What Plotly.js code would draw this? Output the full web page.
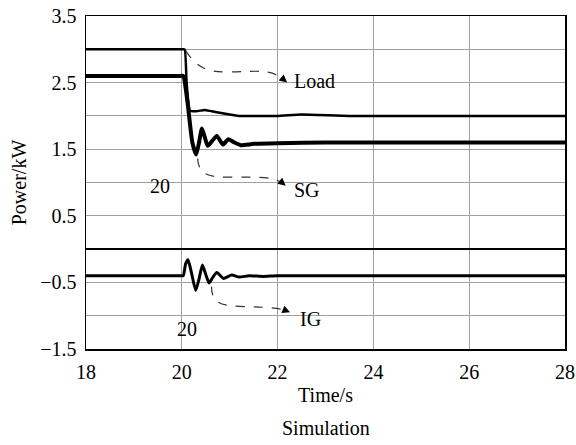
<!DOCTYPE html>
<html>
<head>
<meta charset="utf-8">
<script src="https://cdn.plot.ly/plotly-3.0.1.min.js"></script>
<style>html,body{margin:0;padding:0;background:#fff;}#chart{width:576px;height:445px;}</style>
</head>
<body>
<div id="chart"></div>
<script>
// Load power (kW)
const loadTime = [18, 19, 19.98, 20.06, 20.1, 20.17, 20.3, 20.48, 20.7, 21.0, 21.2, 22.0, 22.5, 23.5, 28];
const loadPower = [3.0, 3.0, 3.0, 3.0, 2.5, 2.08, 2.07, 2.09, 2.06, 2.02, 2.0, 2.0, 2.02, 2.0, 2.0];
// SG power (kW)
const sgTime = [18, 19, 19.97, 20.03, 20.12, 20.22, 20.3, 20.36, 20.42, 20.48, 20.54, 20.63, 20.73, 20.86, 20.97, 21.1, 21.23, 21.5, 22.0, 23.0, 28];
const sgPower = [2.6, 2.6, 2.6, 2.6, 2.2, 1.6, 1.42, 1.6, 1.81, 1.68, 1.55, 1.62, 1.70, 1.57, 1.65, 1.60, 1.56, 1.58, 1.59, 1.60, 1.60];
// IG power (kW)
const igTime = [18, 19, 19.97, 20.03, 20.08, 20.13, 20.2, 20.29, 20.36, 20.43, 20.5, 20.57, 20.65, 20.73, 20.87, 21.04, 21.2, 21.4, 21.7, 22.0, 28];
const igPower = [-0.4, -0.4, -0.4, -0.4, -0.22, -0.16, -0.35, -0.62, -0.45, -0.24, -0.38, -0.51, -0.42, -0.35, -0.44, -0.39, -0.42, -0.40, -0.41, -0.40, -0.40];

const xTickVals = [18, 20, 22, 24, 26, 28];
const xTickText = ['18', '20', '22', '24', '26', '28'];
const yTickVals = [-1.5, -1, -0.5, 0, 0.5, 1, 1.5, 2, 2.5, 3, 3.5];
const yTickText = ['\u22121.5', '', '\u22120.5', '', '0.5', '', '1.5', '', '2.5', '', '3.5'];

const serif = 'Liberation Serif, Times New Roman, serif';

const traces = [
  {x: loadTime, y: loadPower, mode: 'lines', line: {color: '#000', width: 2.5, shape: 'spline', smoothing: 0.4}, hoverinfo: 'skip'},
  {x: sgTime, y: sgPower, mode: 'lines', line: {color: '#000', width: 4, shape: 'spline', smoothing: 0.5}, hoverinfo: 'skip'},
  {x: igTime, y: igPower, mode: 'lines', line: {color: '#000', width: 3, shape: 'spline', smoothing: 0.5}, hoverinfo: 'skip'}
];

const dash = {color: '#333', width: 1.2, dash: 'dash'};
const layout = {
  width: 576, height: 445,
  margin: {l: 86, r: 11, t: 16, b: 96},
  paper_bgcolor: '#fff', plot_bgcolor: '#fff',
  showlegend: false,
  font: {family: serif, size: 20, color: '#000'},
  xaxis: {
    range: [18, 28], tickvals: xTickVals, ticktext: xTickText,
    showgrid: true, gridcolor: '#a0a0a0', gridwidth: 1,
    showline: true, linecolor: '#000', linewidth: 1.5, mirror: true,
    ticks: '', zeroline: false, ticklabelstandoff: 4,
    tickfont: {family: serif, size: 20},
    title: {text: 'Time/s', font: {family: serif, size: 20}, standoff: 6}
  },
  yaxis: {
    range: [-1.5, 3.5], tickvals: yTickVals, ticktext: yTickText,
    showgrid: true, gridcolor: '#a0a0a0', gridwidth: 1,
    showline: true, linecolor: '#000', linewidth: 1.5, mirror: true,
    zeroline: true, zerolinecolor: '#000', zerolinewidth: 2,
    ticks: '', ticklabelstandoff: 4, tickfont: {family: serif, size: 20},
    title: {text: 'Power/kW', font: {family: serif, size: 20}, standoff: 8}
  },
  shapes: [
    {type: 'path', xref: 'x', yref: 'y', path: 'M 20.08,2.98 C 20.35,2.68 20.6,2.66 21.0,2.66 C 21.5,2.66 21.85,2.72 22.12,2.55', line: dash},
    {type: 'path', xref: 'x', yref: 'y', path: 'M 20.33,1.36 C 20.35,1.1 20.6,1.08 21.0,1.08 C 21.5,1.08 21.9,1.1 22.1,0.99', line: dash},
    {type: 'path', xref: 'x', yref: 'y', path: 'M 20.62,-0.56 C 20.62,-0.8 20.8,-0.85 21.2,-0.86 C 21.6,-0.87 21.9,-0.87 22.18,-0.92', line: dash}
  ],
  annotations: [
    {x: 22.2, y: 2.5, xref: 'x', yref: 'y', text: '', showarrow: true, arrowhead: 2, arrowsize: 1.3, arrowwidth: 1.2, arrowcolor: '#000', ax: -6, ay: -5},
    {x: 22.17, y: 0.95, xref: 'x', yref: 'y', text: '', showarrow: true, arrowhead: 2, arrowsize: 1.3, arrowwidth: 1.2, arrowcolor: '#000', ax: -6, ay: -5},
    {x: 22.26, y: -0.95, xref: 'x', yref: 'y', text: '', showarrow: true, arrowhead: 2, arrowsize: 1.3, arrowwidth: 1.2, arrowcolor: '#000', ax: -7, ay: -3},
    {x: 22.3, y: 2.52, xref: 'x', yref: 'y', text: 'Load', showarrow: false, xanchor: 'left', yanchor: 'middle', font: {family: serif, size: 20}},
    {x: 22.3, y: 0.89, xref: 'x', yref: 'y', text: 'SG', showarrow: false, xanchor: 'left', yanchor: 'middle', font: {family: serif, size: 20}},
    {x: 22.43, y: -1.05, xref: 'x', yref: 'y', text: 'IG', showarrow: false, xanchor: 'left', yanchor: 'middle', font: {family: serif, size: 20}},
    {x: 19.55, y: 0.95, xref: 'x', yref: 'y', text: '20', showarrow: false, xanchor: 'center', yanchor: 'middle', font: {family: serif, size: 20}},
    {x: 20.1, y: -1.2, xref: 'x', yref: 'y', text: '20', showarrow: false, xanchor: 'center', yanchor: 'middle', font: {family: serif, size: 20}},
    {x: 0.5, y: -0.236, xref: 'paper', yref: 'paper', text: 'Simulation', showarrow: false, xanchor: 'center', yanchor: 'middle', font: {family: serif, size: 20}}
  ]
};

Plotly.newPlot('chart', traces, layout, {staticPlot: true, displayModeBar: false});
</script>
</body>
</html>
